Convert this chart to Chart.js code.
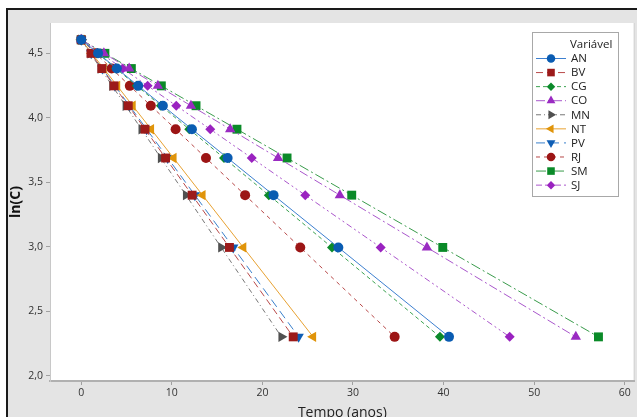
<!DOCTYPE html>
<html>
<head>
<meta charset="utf-8">
<script src="https://cdn.jsdelivr.net/npm/chart.js@4"></script>
<style>
  html, body { margin: 0; padding: 0; background: #fff; overflow: hidden; width: 637px; height: 417px; }
  #frame { position: absolute; left: 6px; top: 8px; width: 629px; height: 407px; background: #e4e4e4; border-left: 2px solid #1a1a1a; border-top: 2px solid #1a1a1a; }
  #wrap { position: absolute; left: 0; top: 0; width: 641px; height: 417px; }
</style>
</head>
<body>
<div id="frame"></div>
<div id="wrap"><canvas id="myChart" width="641" height="417"></canvas></div>
<script>
// nomes das series
const series = ['AN', 'BV', 'CG', 'CO', 'MN', 'NT', 'PV', 'RJ', 'SM', 'SJ'];

// ln(C) - mesmo para todas as series
const lnC = [4.605, 4.500, 4.382, 4.248, 4.094, 3.912, 3.689, 3.401, 2.996, 2.303];

// tempo (anos) de cada serie
const tAN = [0, 1.86, 3.93, 6.29, 9.01, 12.22, 16.16, 21.23, 28.38, 40.6];
const tBV = [0, 1.07, 2.27, 3.62, 5.19, 7.04, 9.31, 12.24, 16.36, 23.4];
const tCG = [0, 1.81, 3.84, 6.13, 8.79, 11.92, 15.76, 20.71, 27.68, 39.6];
const tCO = [0, 2.50, 5.29, 8.46, 12.11, 16.44, 21.73, 28.55, 38.16, 54.6];
const tMN = [0, 1.01, 2.14, 3.42, 4.90, 6.65, 8.79, 11.56, 15.45, 22.1];
const tNT = [0, 1.17, 2.48, 3.97, 5.68, 7.71, 10.19, 13.39, 17.89, 25.6];
const tPV = [0, 1.10, 2.33, 3.72, 5.32, 7.22, 9.55, 12.55, 16.78, 24.0];
const tRJ = [0, 1.58, 3.35, 5.36, 7.68, 10.42, 13.77, 18.09, 24.18, 34.6];
const tSM = [0, 2.61, 5.53, 8.84, 12.67, 17.19, 22.72, 29.86, 39.91, 57.1];
const tSJ = [0, 2.16, 4.58, 7.33, 10.49, 14.24, 18.82, 24.73, 33.06, 47.3];

const yTicks = [2.0, 2.5, 3.0, 3.5, 4.0, 4.5];
const xTicks = [0, 10, 20, 30, 40, 50, 60];

const times = [tAN, tBV, tCG, tCO, tMN, tNT, tPV, tRJ, tSM, tSJ];

// estilo de cada serie (cor do marcador, cor da linha, tracejado, simbolo)
const styles = [
    { mark: '#0a5cb2', line: '#3d80d0', dash: [], shape: 'circle', rot: 0, r: 5 },               // AN
    { mark: '#9c1a1a', line: '#b94a4a', dash: [7, 4], shape: 'rect', rot: 0, r: 6.3 },           // BV
    { mark: '#0b8a2a', line: '#3da352', dash: [4, 3], shape: 'rectRot', rot: 0, r: 5 },          // CG
    { mark: '#9a2bc2', line: '#a957cc', dash: [9, 3, 2, 3], shape: 'triangle', rot: 0, r: 6 },   // CO
    { mark: '#505050', line: '#777777', dash: [5, 3, 1, 3], shape: 'triangle', rot: 90, r: 6 },  // MN
    { mark: '#e0940a', line: '#e8a232', dash: [], shape: 'triangle', rot: 270, r: 6 },           // NT
    { mark: '#0e5eb5', line: '#3a80cc', dash: [9, 5], shape: 'triangle', rot: 180, r: 6 },       // PV
    { mark: '#9c1515', line: '#b84848', dash: [4, 4], shape: 'circle', rot: 0, r: 5 },           // RJ
    { mark: '#0a8a28', line: '#3a9c4c', dash: [10, 3, 2, 3], shape: 'rect', rot: 0, r: 6.3 },    // SM
    { mark: '#9a22c0', line: '#ab56cc', dash: [6, 3, 2, 3, 2, 3], shape: 'rectRot', rot: 0, r: 5 } // SJ
];

const datasets = series.map((name, i) => ({
    label: name,
    data: times[i].map((t, j) => ({ x: t, y: lnC[j] })),
    showLine: true,
    borderColor: styles[i].line,
    borderWidth: 1,
    borderDash: styles[i].dash,
    pointStyle: styles[i].shape,
    pointRotation: styles[i].rot,
    pointRadius: styles[i].r,
    pointBackgroundColor: styles[i].mark,
    pointBorderColor: styles[i].mark,
    pointBorderWidth: 0,
    clip: false
}));

// fundo branco da area do grafico
const plotBg = {
    id: 'plotBg',
    beforeDraw(chart) {
        const a = chart.chartArea;
        chart.ctx.save();
        chart.ctx.fillStyle = '#ffffff';
        chart.ctx.fillRect(a.left, a.top, a.right - a.left, a.bottom - a.top);
        chart.ctx.strokeStyle = '#c8c8c8';
        chart.ctx.lineWidth = 1;
        chart.ctx.beginPath();
        chart.ctx.moveTo(a.right - 0.5, a.top);
        chart.ctx.lineTo(a.right - 0.5, a.bottom);
        chart.ctx.stroke();
        chart.ctx.restore();
    }
};

// legenda dentro do grafico, estilo Minitab
const legendBox = {
    id: 'legendBox',
    afterDraw(chart) {
        const ctx = chart.ctx;
        ctx.save();
        ctx.fillStyle = '#ffffff';
        ctx.fillRect(532, 32, 86, 164);
        ctx.strokeStyle = '#a8a8a8';
        ctx.lineWidth = 1;
        ctx.strokeRect(532.5, 32.5, 86, 164);
        ctx.font = '11.5px "Open Sans"';
        ctx.textBaseline = 'middle';
        ctx.textAlign = 'left';
        ctx.fillStyle = '#222';
        ctx.fillText('Variável', 570, 45);
        chart.data.datasets.forEach((ds, i) => {
            const y = 58 + i * 14.07;
            ctx.beginPath();
            ctx.setLineDash(ds.borderDash);
            ctx.strokeStyle = ds.borderColor;
            ctx.lineWidth = 1;
            ctx.moveTo(536, y + 0.5);
            ctx.lineTo(566, y + 0.5);
            ctx.stroke();
            ctx.setLineDash([]);
            ctx.fillStyle = ds.pointBackgroundColor;
            Chart.helpers.drawPoint(ctx, {
                pointStyle: ds.pointStyle,
                rotation: ds.pointRotation,
                radius: ds.pointRadius * 0.85,
                borderWidth: 0
            }, 551, y + 0.5);
            ctx.fillStyle = '#222';
            ctx.fillText(ds.label, 571, y + 1);
        });
        ctx.restore();
    }
};

const tickFont = { family: '"Open Sans"', size: 10.5 };

new Chart(document.getElementById('myChart').getContext('2d'), {
    type: 'scatter',
    data: { datasets: datasets },
    options: {
        responsive: false,
        animation: false,
        devicePixelRatio: 1,
        layout: { padding: { top: 23, right: 0, left: 0, bottom: 0 } },
        plugins: {
            legend: { display: false },
            tooltip: { enabled: false }
        },
        scales: {
            x: {
                type: 'linear',
                min: -3.45,
                max: 61.1,
                afterFit: function (scale) { scale.height = 36; },
                afterBuildTicks: function (scale) { scale.ticks = xTicks.map(v => ({ value: v })); },
                grid: { drawOnChartArea: false, drawTicks: true, tickLength: 4, color: '#a0a0a0' },
                border: { display: true, color: '#b0b0b0', width: 2 },
                ticks: { font: tickFont, color: '#333', padding: 2, maxRotation: 0 },
                title: {
                    display: true,
                    text: 'Tempo (anos)',
                    font: { family: '"Open Sans"', size: 14 },
                    color: '#222',
                    padding: { top: 0, bottom: -4 }
                }
            },
            y: {
                type: 'linear',
                min: 1.961,
                max: 4.735,
                afterFit: function (scale) { scale.width = 50; },
                afterBuildTicks: function (scale) { scale.ticks = yTicks.map(v => ({ value: v })); },
                grid: { drawOnChartArea: false, drawTicks: true, tickLength: 4, color: '#a0a0a0' },
                border: { display: true, color: '#c8c8c8', width: 1 },
                ticks: {
                    font: tickFont,
                    color: '#333',
                    padding: 3,
                    callback: function (v) { return v.toFixed(1).replace('.', ','); }
                },
                title: {
                    display: true,
                    text: 'ln(C)',
                    font: { family: '"Open Sans"', size: 14, weight: 'bold' },
                    color: '#111',
                    padding: { top: 8, bottom: 0 }
                }
            }
        }
    },
    plugins: [plotBg, legendBox]
});
</script>
</body>
</html>
